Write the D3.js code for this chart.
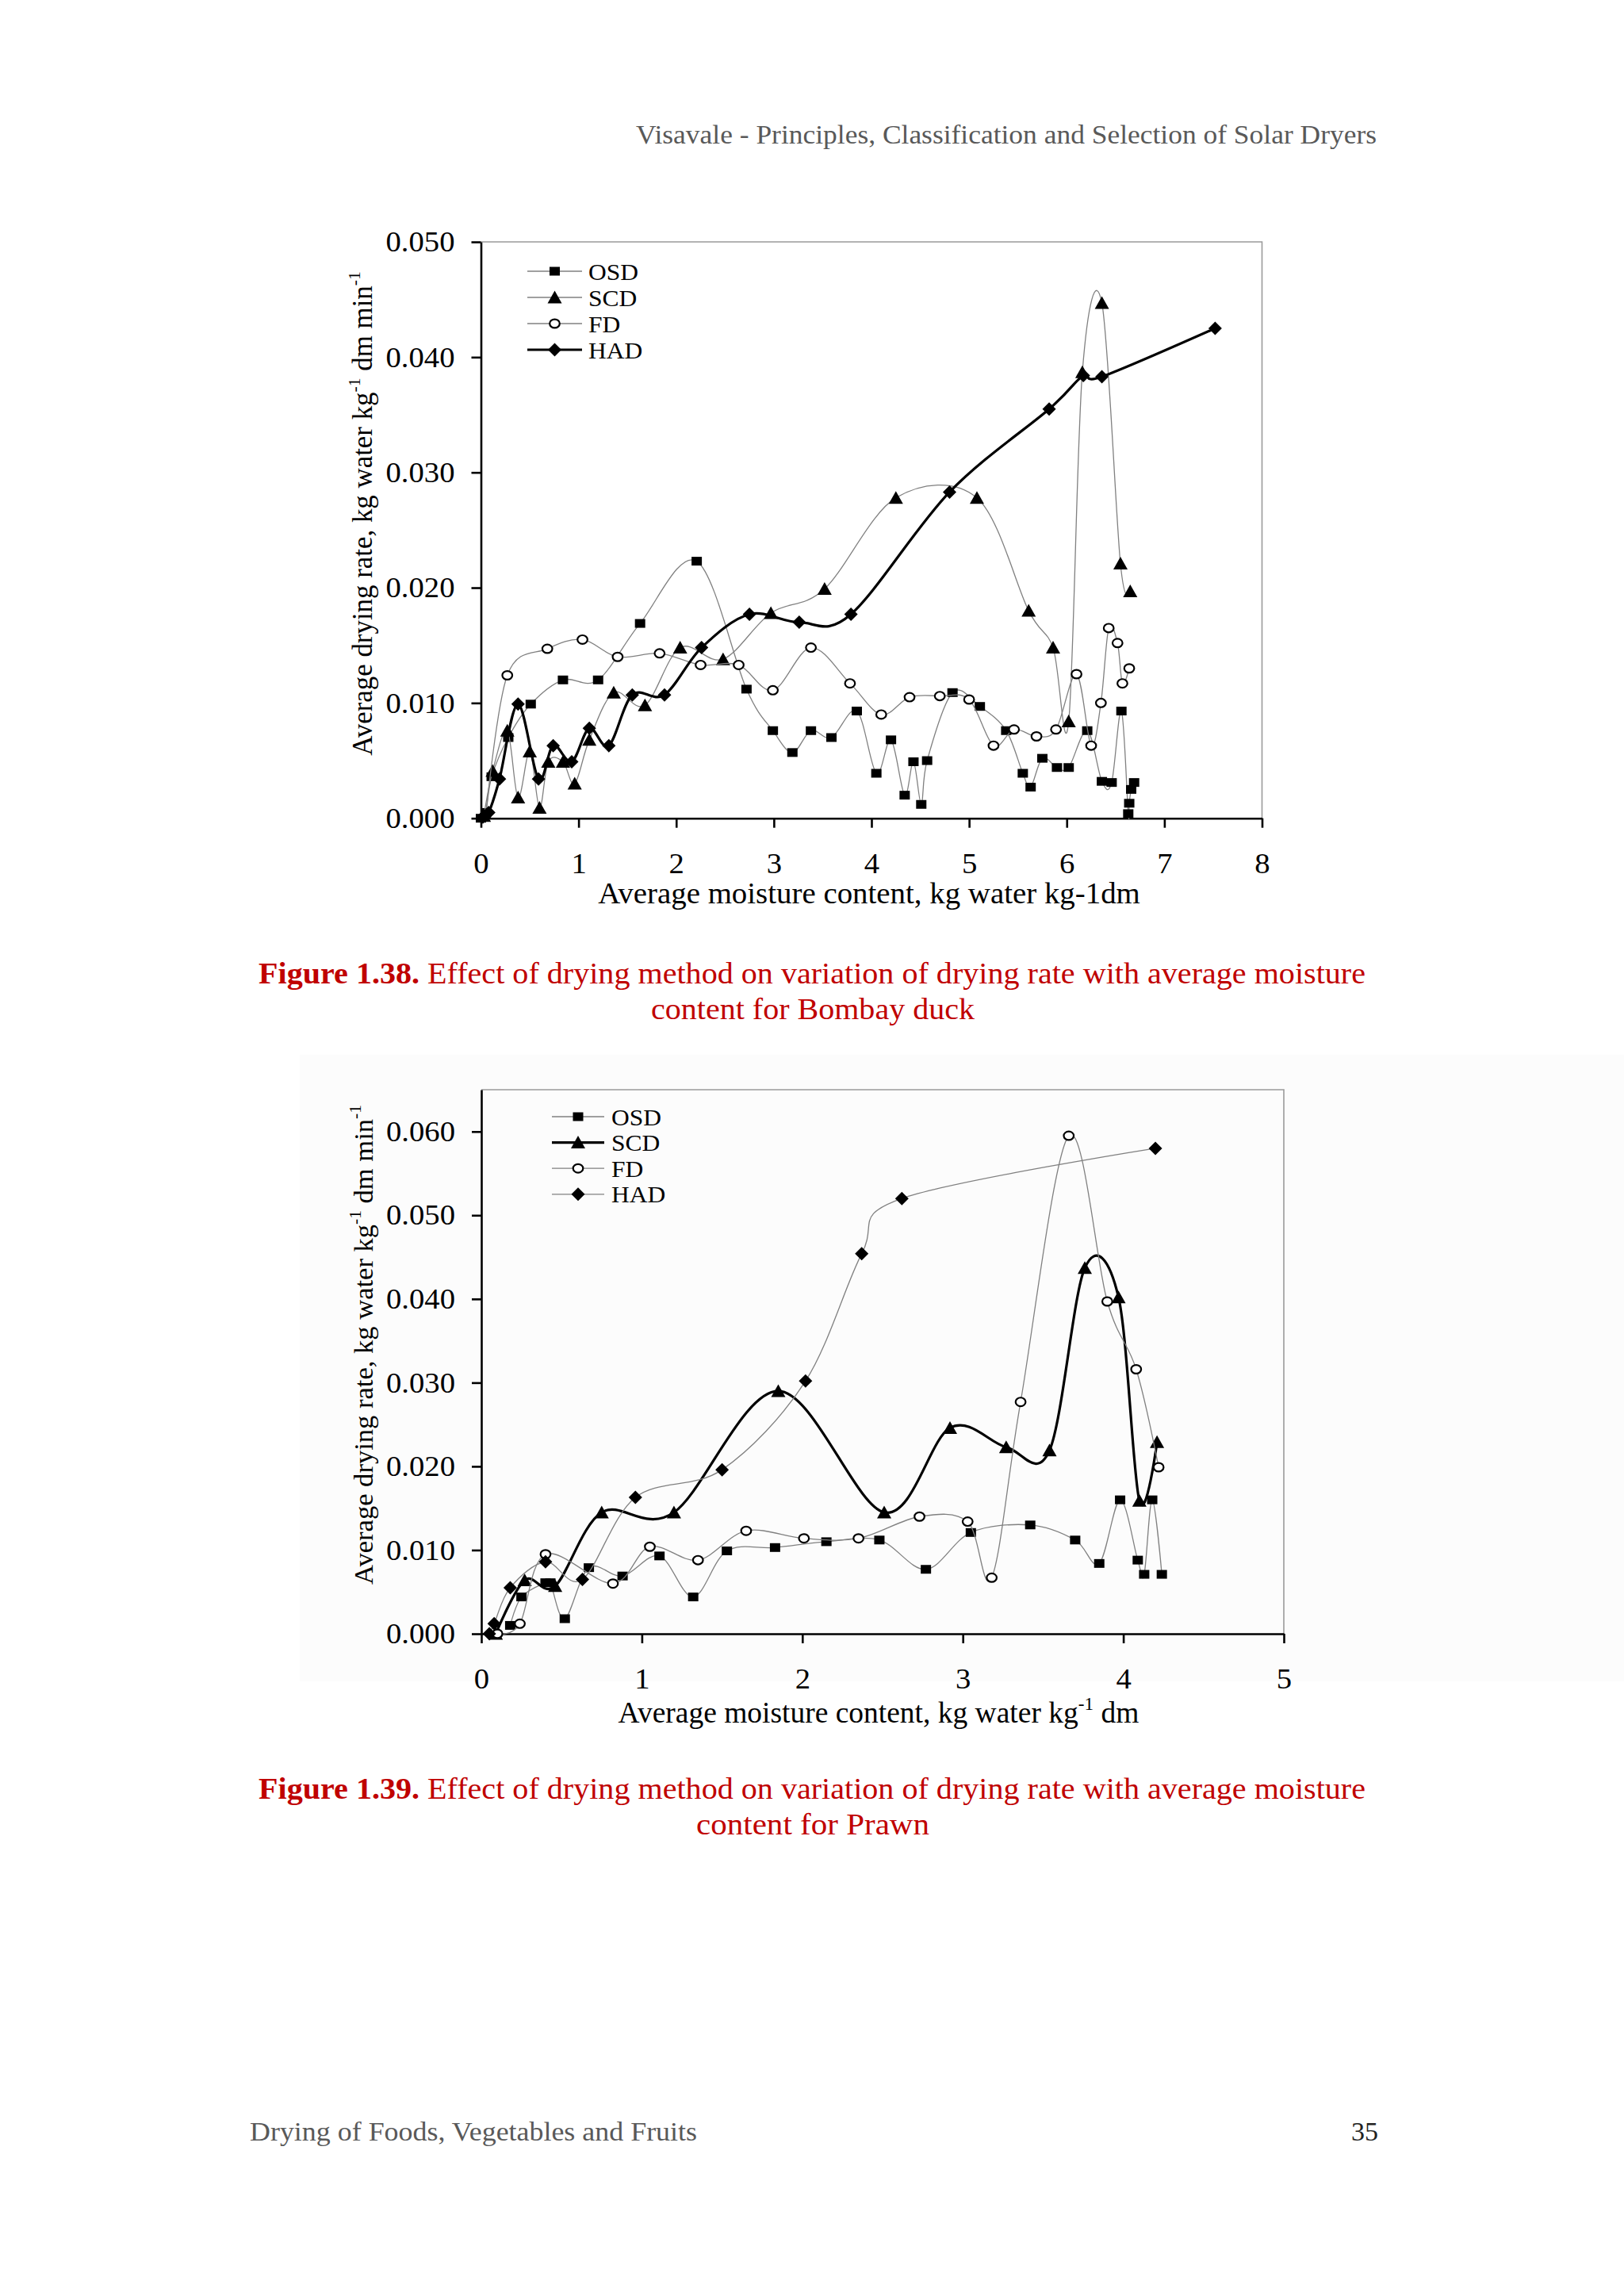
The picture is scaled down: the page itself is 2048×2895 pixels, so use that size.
<!DOCTYPE html>
<html><head><meta charset="utf-8">
<script src="https://cdn.jsdelivr.net/npm/d3@7"></script>
<style>body{margin:0;background:#fff} svg{display:block}</style>
</head><body>
<svg id="page" width="2048" height="2895"></svg>
<script>
// ---------- data ----------
const seriesNames = ["OSD", "SCD", "FD", "HAD"];

// Figure 1.38 – Bombay duck  [moisture content, drying rate]
const duckOSD = [[0.00,0.0000],[0.05,0.0005],[0.11,0.0036],[0.28,0.0070],[0.51,0.0099],[0.84,0.0120],[1.20,0.0120],[1.63,0.0169],[2.21,0.0223],[2.72,0.0112],[2.99,0.0076],[3.19,0.0057],[3.38,0.0076],[3.59,0.0070],[3.85,0.0093],[4.05,0.0039],[4.20,0.0068],[4.34,0.0020],[4.43,0.0049],[4.51,0.0012],[4.57,0.0050],[4.83,0.0109],[5.11,0.0097],[5.38,0.0076],[5.55,0.0039],[5.63,0.0027],[5.75,0.0052],[5.90,0.0044],[6.02,0.0044],[6.21,0.0076],[6.36,0.0032],[6.46,0.0031],[6.56,0.0093],[6.63,0.0004],[6.64,0.0013],[6.66,0.0025],[6.69,0.0031]];
const duckSCD = [[0.03,0.0002],[0.12,0.0041],[0.27,0.0076],[0.38,0.0018],[0.50,0.0058],[0.60,0.0009],[0.69,0.0049],[0.84,0.0049],[0.96,0.0030],[1.11,0.0068],[1.36,0.0109],[1.68,0.0098],[2.04,0.0148],[2.48,0.0138],[2.97,0.0178],[3.52,0.0199],[4.25,0.0278],[5.08,0.0278],[5.61,0.0180],[5.86,0.0148],[6.02,0.0084],[6.16,0.0387],[6.36,0.0447],[6.55,0.0221],[6.65,0.0197]];
const duckFD = [[0.05,0.0003],[0.27,0.0124],[0.68,0.0147],[1.04,0.0155],[1.40,0.0140],[1.83,0.0143],[2.25,0.0133],[2.64,0.0133],[2.99,0.0111],[3.38,0.0148],[3.78,0.0117],[4.10,0.0090],[4.39,0.0105],[4.70,0.0106],[5.00,0.0103],[5.25,0.0063],[5.46,0.0077],[5.69,0.0071],[5.89,0.0077],[6.10,0.0125],[6.25,0.0063],[6.35,0.0100],[6.43,0.0165],[6.52,0.0152],[6.57,0.0117],[6.64,0.0130]];
const duckHAD = [[0.02,0.0001],[0.08,0.0005],[0.19,0.0034],[0.38,0.0099],[0.59,0.0034],[0.74,0.0063],[0.93,0.0049],[1.11,0.0078],[1.31,0.0063],[1.55,0.0107],[1.88,0.0107],[2.26,0.0148],[2.75,0.0177],[3.26,0.0170],[3.79,0.0177],[4.80,0.0283],[5.82,0.0355],[6.17,0.0384],[6.36,0.0383],[7.52,0.0425]];
const duckXTicks = [0, 1, 2, 3, 4, 5, 6, 7, 8];
const duckYTicks = [0.000, 0.010, 0.020, 0.030, 0.040, 0.050];

// Figure 1.39 – Prawn
const prawnOSD = [[0.18,0.0010],[0.25,0.0044],[0.40,0.0061],[0.43,0.0061],[0.52,0.0018],[0.67,0.0079],[0.88,0.0069],[1.11,0.0093],[1.32,0.0044],[1.53,0.0099],[1.83,0.0103],[2.15,0.0110],[2.48,0.0112],[2.77,0.0077],[3.05,0.0121],[3.42,0.0130],[3.70,0.0112],[3.85,0.0084],[3.98,0.0160],[4.09,0.0088],[4.13,0.0071],[4.18,0.0160],[4.24,0.0071]];
const prawnSCD = [[0.09,0.0000],[0.27,0.0064],[0.46,0.0057],[0.75,0.0145],[1.20,0.0145],[1.85,0.0290],[2.51,0.0145],[2.92,0.0246],[3.27,0.0223],[3.54,0.0219],[3.76,0.0437],[3.97,0.0402],[4.10,0.0159],[4.21,0.0229]];
const prawnFD = [[0.10,0.0000],[0.24,0.0012],[0.40,0.0095],[0.82,0.0060],[1.05,0.0104],[1.35,0.0088],[1.65,0.0123],[2.01,0.0114],[2.35,0.0114],[2.73,0.0140],[3.03,0.0134],[3.18,0.0067],[3.36,0.0277],[3.66,0.0595],[3.90,0.0397],[4.08,0.0316],[4.22,0.0199]];
const prawnHAD = [[0.05,0.0000],[0.08,0.0012],[0.18,0.0055],[0.40,0.0086],[0.63,0.0065],[0.96,0.0163],[1.50,0.0196],[2.02,0.0302],[2.37,0.0454],[2.62,0.0520],[4.20,0.0580]];
const prawnXTicks = [0, 1, 2, 3, 4, 5];
const prawnYTicks = [0.000, 0.010, 0.020, 0.030, 0.040, 0.050, 0.060];

// ---------- drawing ----------
const SERIF = "'Liberation Serif', 'Times New Roman', serif";
const svg = d3.select("#page");
svg.append("rect").attr("width", 2048).attr("height", 2895).attr("fill", "#ffffff");
svg.append("rect").attr("x", 378).attr("y", 1330).attr("width", 1670).attr("height", 790).attr("fill", "#fcfcfc");

function stretch(sel, k) {
  sel.each(function () {
    const L = this.getComputedTextLength();
    d3.select(this).attr("textLength", L * k).attr("lengthAdjust", "spacingAndGlyphs");
  });
}
function setWidth(sel, W) {
  sel.attr("textLength", W).attr("lengthAdjust", "spacingAndGlyphs");
}

// text made of separate runs (superscripts as their own text elements)
function richText(g, parts, o) {
  const fs0 = 35;
  const nodes = parts.map(p => g.append("text")
    .attr("font-family", SERIF).attr("fill", "#000").style("white-space", "pre")
    .attr("font-size", p.sup ? fs0 * 0.62 : fs0).text(p.t));
  const total0 = d3.sum(nodes, n => n.node().getComputedTextLength());
  const k = o.w / total0;
  const fs = fs0 * k;
  nodes.forEach((n, i) => n.attr("font-size", parts[i].sup ? fs * 0.62 : fs));
  const lens = nodes.map(n => n.node().getComputedTextLength());
  const total = d3.sum(lens);
  let off = 0;
  nodes.forEach((n, i) => {
    const shift = parts[i].sup ? -0.42 * fs : 0;
    if (o.rotate) {
      n.attr("transform", `translate(${o.x + shift},${o.y + total / 2 - off}) rotate(-90)`);
    } else {
      n.attr("x", o.x - total / 2 + off).attr("y", o.y + shift);
    }
    off += lens[i];
  });
}

const shapePaths = {
  square: "M-6.5,-5.5h13v11h-13z",
  triangle: "M0,-8.5L9,7.5L-9,7.5Z",
  diamond: "M0,-8.5L8.5,0L0,8.5L-8.5,0Z",
};
function drawMarker(g, type, cx, cy) {
  if (type === "circle") {
    g.append("ellipse").attr("cx", cx).attr("cy", cy).attr("rx", 6.3).attr("ry", 5.4)
      .attr("fill", "#fff").attr("stroke", "#000").attr("stroke-width", 2.2);
  } else {
    g.append("path").attr("d", shapePaths[type]).attr("transform", `translate(${cx},${cy})`)
      .attr("fill", "#000");
  }
}
const markerTypes = ["square", "triangle", "circle", "diamond"];

function drawChart(c) {
  const g = svg.append("g");
  const x = d3.scaleLinear().domain(c.xDomain).range([c.left, c.right]);
  const y = d3.scaleLinear().domain(c.yDomain).range([c.bottom, c.top]);

  // frame (top + right)
  g.append("path").attr("d", `M${c.left},${c.top}H${c.right}V${c.bottom}`)
    .attr("fill", "none").attr("stroke", "#9a9a9a").attr("stroke-width", 1.6);

  // axes
  const ya = g.append("g").attr("transform", `translate(${c.left},0)`)
    .call(d3.axisLeft(y).tickValues(c.yTicks).tickFormat(d3.format(".3f"))
      .tickSize(12).tickSizeOuter(0).tickPadding(21));
  const xa = g.append("g").attr("transform", `translate(0,${c.bottom})`)
    .call(d3.axisBottom(x).tickValues(c.xTicks).tickFormat(d3.format("d"))
      .tickSize(12).tickSizeOuter(0).tickPadding(31));
  [ya, xa].forEach(a => {
    a.attr("font-family", SERIF).attr("font-size", 36.5);
    a.select(".domain").attr("stroke", "#000").attr("stroke-width", 2.6);
    a.selectAll(".tick line").attr("stroke", "#000").attr("stroke-width", 2.6);
    a.selectAll(".tick text").attr("fill", "#000");
  });
  stretch(ya.selectAll(".tick text"), 1.06);
  stretch(xa.selectAll(".tick text"), 1.06);

  // series
  const line = d3.line().x(d => x(d[0])).y(d => y(d[1])).curve(d3.curveCardinal.tension(0));
  c.series.forEach((s, i) => {
    const sg = g.append("g");
    sg.append("path").attr("d", line(s)).attr("fill", "none")
      .attr("stroke", c.thick[i] ? "#000" : "#808080")
      .attr("stroke-width", c.thick[i] ? 3.2 : 1.3)
      .attr("stroke-linejoin", "round");
    s.forEach(d => drawMarker(sg, markerTypes[i], x(d[0]), y(d[1])));
  });

  // legend
  const lg = g.append("g");
  seriesNames.forEach((name, i) => {
    const ly = c.legend.y0 + i * c.legend.dy;
    lg.append("line").attr("x1", c.legend.x1).attr("x2", c.legend.x2).attr("y1", ly).attr("y2", ly)
      .attr("stroke", c.thick[i] ? "#000" : "#808080").attr("stroke-width", c.thick[i] ? 3.2 : 1.3);
    drawMarker(lg, markerTypes[i], (c.legend.x1 + c.legend.x2) / 2, ly);
    const t = lg.append("text").attr("x", c.legend.tx).attr("y", ly + 10.5)
      .attr("font-family", SERIF).attr("font-size", 30).attr("fill", "#000").text(name);
    stretch(t, 1.05);
  });

  // titles
  richText(g, c.xTitle.parts, { x: c.xTitle.cx, y: c.xTitle.y, w: c.xTitle.w, rotate: false });
  richText(g, c.yTitle.parts, { x: c.yTitle.x, y: c.yTitle.cy, w: c.yTitle.w, rotate: true });
}

const yTitleParts = [
  { t: "Average drying rate, kg water kg" }, { t: "-1", sup: true },
  { t: " dm min" }, { t: "-1", sup: true }
];

drawChart({
  xDomain: [0, 8], yDomain: [0, 0.05],
  left: 606.5, right: 1591.5, top: 305, bottom: 1031.7,
  xTicks: duckXTicks, yTicks: duckYTicks,
  series: [duckOSD, duckSCD, duckFD, duckHAD],
  thick: [false, false, false, true],
  legend: { x1: 665, x2: 734, tx: 742, y0: 342, dy: 33 },
  xTitle: { cx: 1096, y: 1139, w: 684, parts: [{ t: "Average moisture content, kg water kg-1dm" }] },
  yTitle: { x: 469, cy: 647.5, w: 611, parts: yTitleParts }
});

drawChart({
  xDomain: [0, 5], yDomain: [0, 0.065],
  left: 607, right: 1619, top: 1374, bottom: 2060,
  xTicks: prawnXTicks, yTicks: prawnYTicks,
  series: [prawnOSD, prawnSCD, prawnFD, prawnHAD],
  thick: [false, true, false, false],
  legend: { x1: 696, x2: 762, tx: 771, y0: 1408, dy: 32.6 },
  xTitle: { cx: 1108, y: 2172, w: 657, parts: [{ t: "Average moisture content, kg water kg" }, { t: "-1", sup: true }, { t: " dm" }] },
  yTitle: { x: 470, cy: 1695.5, w: 605, parts: yTitleParts }
});

// ---------- page text ----------
const header = svg.append("text").attr("x", 802).attr("y", 181)
  .attr("font-family", SERIF).attr("font-size", 34).attr("fill", "#595959")
  .text("Visavale - Principles, Classification and Selection of Solar Dryers");
setWidth(header, 934);

function caption(num, rest, line2, y1, w2) {
  const t1 = svg.append("text").attr("x", 326).attr("y", y1)
    .attr("font-family", SERIF).attr("font-size", 37).attr("fill", "#c00000");
  t1.append("tspan").attr("font-weight", "bold").text(num);
  t1.append("tspan").text(" " + rest);
  setWidth(t1, 1396);
  const t2 = svg.append("text").attr("x", 1025).attr("y", y1 + 45).attr("text-anchor", "middle")
    .attr("font-family", SERIF).attr("font-size", 37).attr("fill", "#c00000").text(line2);
  setWidth(t2, w2);
}
caption("Figure 1.38.", "Effect of drying method on variation of drying rate with average moisture",
  "content for Bombay duck", 1240, 408);
caption("Figure 1.39.", "Effect of drying method on variation of drying rate with average moisture",
  "content for Prawn", 2268, 294);

const footer = svg.append("text").attr("x", 315).attr("y", 2699)
  .attr("font-family", SERIF).attr("font-size", 34).attr("fill", "#595959")
  .text("Drying of Foods, Vegetables and Fruits");
setWidth(footer, 564);
svg.append("text").attr("x", 1738).attr("y", 2699).attr("text-anchor", "end")
  .attr("font-family", SERIF).attr("font-size", 34).attr("fill", "#222").text("35");
</script>
</body></html>
